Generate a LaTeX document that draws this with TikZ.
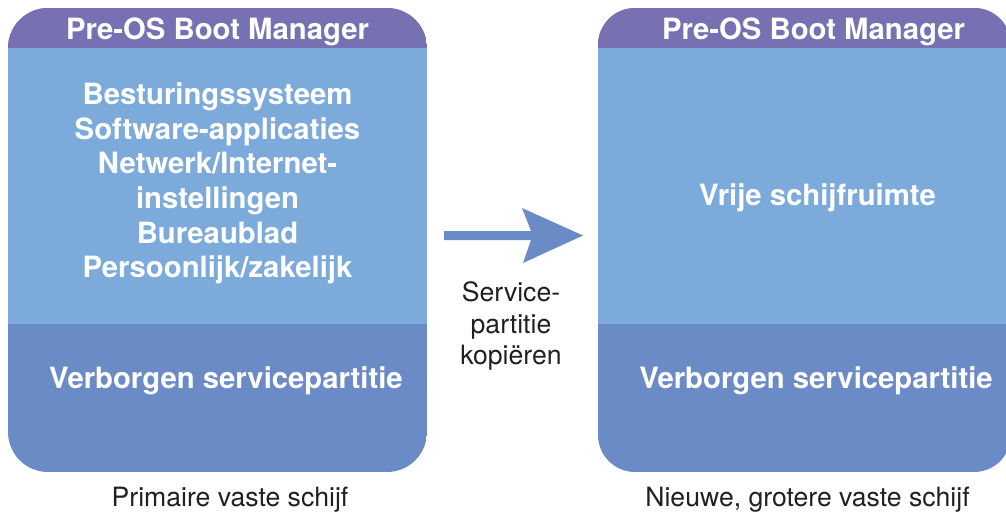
\documentclass[tikz,border=0pt]{standalone}
\usepackage{fontspec}
\setmainfont{TeX Gyre Heros}
\definecolor{hdrpurple}{RGB}{119,112,178}
\definecolor{lightblue}{RGB}{123,170,219}
\definecolor{darkblue}{RGB}{107,139,199}
\definecolor{txtdark}{RGB}{35,31,32}
\tikzset{
  boldtxt/.style={anchor=base, inner sep=0pt, text=white, font=\fontsize{29.3}{34.5}\selectfont\bfseries},
  plaintxt/.style={anchor=base, inner sep=0pt, text=txtdark, font=\fontsize{26.6}{31}\selectfont},
}
\begin{document}
\begin{tikzpicture}[x=1pt,y=-1pt]
\useasboundingbox (0,0) rectangle (1006,513);
% left disk
\begin{scope}
  \clip[rounded corners=40pt] (8,8) rectangle (427,472);
  \fill[darkblue] (8,8) rectangle (427,472);
  \fill[lightblue] (8,48) rectangle (427,324);
  \fill[hdrpurple] (8,8) rectangle (427,48);
\end{scope}
% right disk
\begin{scope}
  \clip (0,0) rectangle (1006,513);
  \clip[rounded corners=37pt] (598,8) rectangle (1011,472);
  \fill[darkblue] (598,8) rectangle (1011,472);
  \fill[lightblue] (598,48) rectangle (1011,324);
  \fill[hdrpurple] (598,8) rectangle (1011,48);
\end{scope}
% texts left
\node[boldtxt] (lhdr) at (217.5,40) {Pre-OS Boot Manager};
\node[boldtxt] (l1) at (217.5,105) {Besturingssysteem};
\node[boldtxt] (l2) at (217.5,139.5) {Software-applicaties};
\node[boldtxt] (l3) at (217.5,174) {Netwerk/Internet-};
\node[boldtxt] (l4) at (217.5,208.5) {instellingen};
\node[boldtxt] (l5) at (217.5,243) {Bureaublad};
\node[boldtxt] (l6) at (217.5,277.5) {Persoonlijk/zakelijk};
\node[boldtxt] (lsvc) at (226,388) {Verborgen servicepartitie};
\node[plaintxt] (lcap) at (230,506) {Primaire vaste schijf};
% texts right
\node[boldtxt] (rhdr) at (813.5,40) {Pre-OS Boot Manager};
\node[boldtxt] (rfree) at (817.5,205.5) {Vrije schijfruimte};
\node[boldtxt] (rsvc) at (816,388) {Verborgen servicepartitie};
\node[plaintxt] (rcap) at (807.5,506) {Nieuwe, grotere vaste schijf};
% arrow
\coordinate (atail) at (444,235.5);
\coordinate (atip) at (583,235.5);
\fill[darkblue] ([yshift=4.5pt]atail) -- (531,231) -- (522,208) -- (atip) -- (523,263) -- (531,240) -- ([yshift=-4.5pt]atail) -- cycle;
\node[plaintxt] (al1) at (511,301.5) {Service-};
\node[plaintxt] (al2) at (511,333) {partitie};
\node[plaintxt] (al3) at (511,364) {kopiëren};
\end{tikzpicture}
\end{document}
